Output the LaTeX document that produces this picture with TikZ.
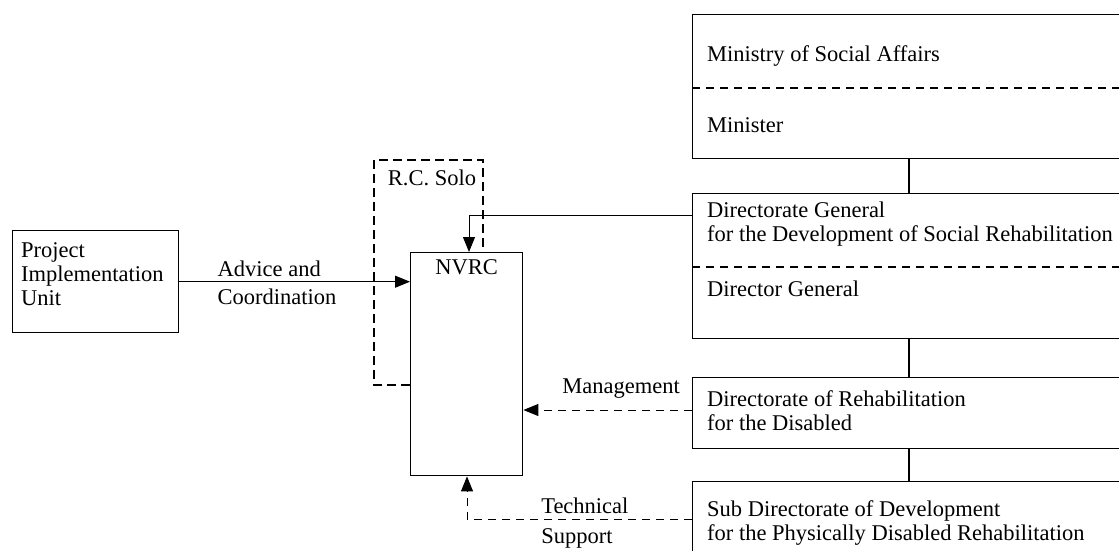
\documentclass[tikz,border=0pt]{standalone}
\usepackage{fontspec}
\setmainfont{Liberation Serif}
\usetikzlibrary{arrows.meta,positioning,calc}
\tikzstyle{arrow} = [line width=1pt, -{Triangle[length=15pt,width=12pt]}]
\tikzstyle{orgbox} = [draw, line width=1.4pt, inner sep=0pt, anchor=north west]
\tikzstyle{divider} = [line width=1.1pt, dash pattern=on 8pt off 6pt]
\tikzstyle{solo} = [line width=2.8pt, dash pattern=on 9pt off 5pt]
\tikzstyle{vlink} = [line width=2.4pt]
\tikzstyle{txt} = [anchor=west, align=left, inner sep=0pt]

\begin{document}
\begin{tikzpicture}[x=1pt,y=-1pt,font=\fontsize{22.5}{24}\selectfont]
\clip (0,0) rectangle (1119,551);
% ministry side
\node[orgbox, minimum width=450pt, minimum height=144pt] (mosa) at (692,14) {};
\node[orgbox, minimum width=450pt, minimum height=145pt] (dgdsr) at (692,193) {};
\node[orgbox, minimum width=450pt, minimum height=71pt] (drd) at (692,377) {};
\node[orgbox, minimum width=450pt, minimum height=100pt] (sdpdr) at (692,481) {};

\draw[divider] ([yshift=-74pt]mosa.north west) -- ([yshift=-74pt]mosa.north east);
\draw[divider] ([yshift=-74pt]dgdsr.north west) -- ([yshift=-74pt]dgdsr.north east);

\draw[vlink] ([xshift=217pt]mosa.south west) -- ([xshift=217pt]dgdsr.north west);
\draw[vlink] ([xshift=217pt]dgdsr.south west) -- ([xshift=217pt]drd.north west);
\draw[vlink] ([xshift=217pt]drd.south west) -- ([xshift=217pt]sdpdr.north west);

\node[txt] (mosat) at ([xshift=15pt,yshift=-42pt]mosa.north west) {Ministry of Social Affairs};
\node[txt] (mint) at ([xshift=15pt,yshift=-111pt]mosa.north west) {Minister};
\node[txt] (dgdsrt) at ([xshift=15pt,yshift=-31pt]dgdsr.north west) {Directorate General\\for the Development of Social Rehabilitation};
\node[txt] (dgt) at ([xshift=15pt,yshift=-96pt]dgdsr.north west) {Director General};
\node[txt] (drdt) at ([xshift=15pt,yshift=-34pt]drd.north west) {Directorate of Rehabilitation\\for the Disabled};
\node[txt] (sdpdrt) at ([xshift=15pt,yshift=-42pt]sdpdr.north west) {Sub Directorate of Development\\for the Physically Disabled Rehabilitation};

% project side
\node[orgbox, minimum width=166pt, minimum height=102pt] (piu) at (12,230) {};
\node[txt] (piut) at ([xshift=9pt,yshift=-44pt]piu.north west) {Project\\Implementation\\Unit};

\node[orgbox, minimum width=112pt, minimum height=223pt] (nvrc) at (410,252) {};
\node[inner sep=0pt] (nvrct) at ([yshift=-15pt]nvrc.north) {NVRC};

%\coordinate for the R.C. Solo frame
\coordinate (solocorner) at (374,160);
\draw[solo] ([yshift=-133pt]nvrc.north west) -| (solocorner) -| ([xshift=73pt]nvrc.north west);
\node[inner sep=0pt] (solot) at (432,178) {R.C. Solo};

% links
\draw[arrow] ([yshift=-22pt]dgdsr.north west) -| ([xshift=59pt]nvrc.north west);
\draw[arrow] (piu.east) -- (piu.east -| nvrc.west)
    node[pos=0.164, anchor=south west, inner sep=0pt, yshift=4pt] (advt) {Advice and}
    node[pos=0.164, anchor=north west, inner sep=0pt, yshift=-7pt] (coordt) {Coordination};
\draw[arrow, dashed, dash pattern=on 8pt off 6pt] ([yshift=-33pt]drd.north west) -- ([yshift=-33pt]drd.north west -| nvrc.east)
    node[pos=0.42, anchor=south, inner sep=0pt, yshift=11pt] (mgmt) {Management};
\draw[arrow, dashed, dash pattern=on 8pt off 6pt] ([yshift=-38pt]sdpdr.north west) -| ([xshift=57pt]nvrc.south west)
    node[pos=0.336, anchor=south west, inner sep=0pt, yshift=5pt] (techt) {Technical}
    node[pos=0.336, anchor=north west, inner sep=0pt, yshift=-9pt] (suppt) {Support};
\end{tikzpicture}
\end{document}
